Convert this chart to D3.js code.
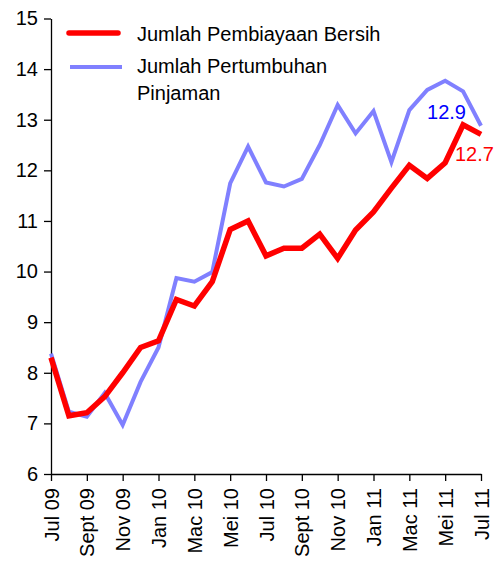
<!DOCTYPE html>
<html>
<head>
<meta charset="utf-8">
<script src="https://cdn.jsdelivr.net/npm/d3@7"></script>
<style>
  body { margin: 0; background: #fff; }
  text { font-family: "Liberation Sans", Arial, sans-serif; }
</style>
</head>
<body>
<div id="chart-area"></div>
<script>
let months = ["Jul 09","Ogos 09","Sept 09","Okt 09","Nov 09","Dis 09","Jan 10","Feb 10","Mac 10","Apr 10","Mei 10","Jun 10",
              "Jul 10","Ogos 10","Sept 10","Okt 10","Nov 10","Dis 10","Jan 11","Feb 11","Mac 11","Apr 11","Mei 11","Jun 11","Jul 11"];
let pembiayaan = [8.3,7.15,7.21,7.53,8.0,8.5,8.63,9.45,9.32,9.8,10.83,11.0,
                  10.31,10.46,10.46,10.74,10.26,10.82,11.18,11.65,12.1,11.84,12.15,12.9,12.71];
let pinjaman = [8.38,7.23,7.13,7.6,6.97,7.82,8.5,9.87,9.8,9.99,11.74,12.47,
                11.76,11.68,11.83,12.5,13.29,12.73,13.17,12.16,13.19,13.59,13.77,13.56,12.88];
let yTicks = [6,7,8,9,10,11,12,13,14,15];
let seriesNames = ["Jumlah Pembiayaan Bersih", "Jumlah Pertumbuhan", "Pinjaman"];

let width = 498;
let height = 564;
let svg = d3.select("#chart-area")
            .append("svg")
            .attr("width", width)
            .attr("height", height);

let x = d3.scalePoint()
          .domain(months)
          .range([51, 481]);

let y = d3.scaleLinear()
          .domain([6, 15])
          .range([474, 18.5]);

// y axis
let yAxis = svg.append("g")
   .attr("transform", "translate(51,0)")
   .call(d3.axisLeft(y).tickValues(yTicks).tickSize(7).tickPadding(6).tickSizeOuter(0));
yAxis.selectAll("text").style("font-size", "20px").attr("fill", "#000");
yAxis.selectAll("line, path").attr("stroke", "#000").attr("stroke-width", 1.3);

// x axis, label every second month
let xAxis = svg.append("g")
   .attr("transform", "translate(0,474)")
   .call(d3.axisBottom(x)
           .tickValues(months.filter(function(d, i){ return i % 2 === 0; }))
           .tickSize(7)
           .tickSizeOuter(0));
xAxis.selectAll("line, path").attr("stroke", "#000").attr("stroke-width", 1.3);
xAxis.selectAll("text")
     .style("font-size", "20px")
     .attr("fill", "#000")
     .attr("transform", "rotate(-90)")
     .attr("x", -14)
     .attr("y", 0)
     .attr("dy", "0.35em")
     .style("text-anchor", "end");

let line = d3.line()
             .x(function(d, i){ return x(months[i]); })
             .y(function(d){ return y(d); });

svg.append("path")
   .datum(pinjaman)
   .attr("fill", "none")
   .attr("stroke", "#8080ff")
   .attr("stroke-width", 4)
   .attr("d", line);

svg.append("path")
   .datum(pembiayaan)
   .attr("fill", "none")
   .attr("stroke", "#ff0000")
   .attr("stroke-width", 5.5)
   .attr("d", line);

// end labels
svg.append("text")
   .attr("x", 466).attr("y", 119)
   .style("text-anchor", "end")
   .style("font-size", "20px")
   .attr("fill", "#0000ff")
   .text(d3.format(".1f")(pinjaman[pinjaman.length - 1]));

svg.append("text")
   .attr("x", 455).attr("y", 161)
   .style("font-size", "20px")
   .attr("fill", "#ff0000")
   .text(d3.format(".1f")(pembiayaan[pembiayaan.length - 1]));

// legend
let legend = svg.append("g");
legend.append("line")
      .attr("x1", 69).attr("x2", 118).attr("y1", 33).attr("y2", 33)
      .attr("stroke", "#ff0000").attr("stroke-width", 5.5).attr("stroke-linecap", "round");
legend.append("line")
      .attr("x1", 70).attr("x2", 122).attr("y1", 67).attr("y2", 67)
      .attr("stroke", "#8080ff").attr("stroke-width", 4);
legend.selectAll(".leg")
      .data(seriesNames)
      .enter()
      .append("text")
      .attr("x", 137)
      .attr("y", function(d, i){ return [40.5, 73, 100][i]; })
      .style("font-size", "20px")
      .attr("fill", "#000")
      .text(function(d){ return d; });
</script>
</body>
</html>
